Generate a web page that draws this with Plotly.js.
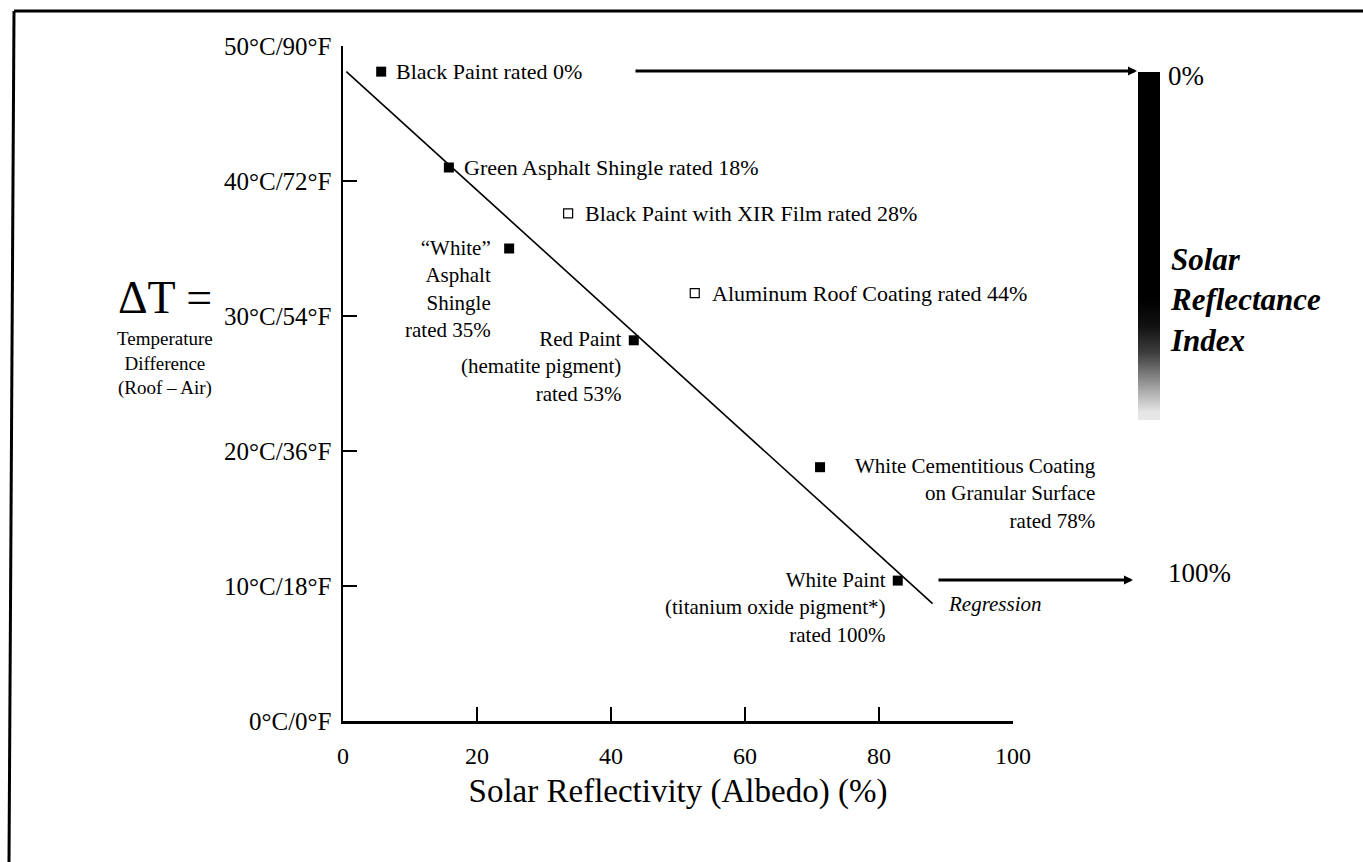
<!DOCTYPE html>
<html>
<head>
<meta charset="utf-8">
<script src="https://cdn.plot.ly/plotly-3.0.1.min.js"></script>
<style>html,body{margin:0;padding:0;background:#fff;}#chart{width:1363px;height:862px;}</style>
</head>
<body>
<div id="chart"></div>
<script>
// ---- data ----
const materials = ["Black Paint", "Green Asphalt Shingle", "Black Paint with XIR Film", "\u201cWhite\u201d Asphalt Shingle", "Aluminum Roof Coating", "Red Paint", "White Cementitious Coating", "White Paint"];
const albedo = [5.7, 15.8, 33.6, 24.8, 52.5, 43.4, 71.2, 82.8];
const deltaT = [48.1, 41.0, 37.6, 35.0, 31.7, 28.2, 18.8, 10.4];
const sriRating = [0, 18, 28, 35, 44, 53, 78, 100];
const openMarker = [false, false, true, false, true, false, false, false];
const labelText = [
  "Black Paint rated 0%",
  "Green Asphalt Shingle rated 18%",
  "Black Paint with XIR Film rated 28%",
  "\u201cWhite\u201d<br>Asphalt<br>Shingle<br>rated 35%",
  "Aluminum Roof Coating rated 44%",
  "Red Paint<br>(hematite pigment)<br>rated 53%",
  "White Cementitious Coating<br>on Granular Surface<br>rated 78%",
  "White Paint<br>(titanium oxide pigment*)<br>rated 100%"
];
const labelSide = ["right", "right", "right", "left", "right", "left", "right", "left"];
const regressionX = [0.5, 88];
const regressionY = [48.1, 8.7];
const xTickVals = [0, 20, 40, 60, 80, 100];
const yTickVals = [0, 10, 20, 30, 40, 50];
const yTickText = ["0\u00b0C/0\u00b0F", "10\u00b0C/18\u00b0F", "20\u00b0C/36\u00b0F", "30\u00b0C/54\u00b0F", "40\u00b0C/72\u00b0F", "50\u00b0C/90\u00b0F"];
const sriLevels = [0, 5, 10, 15, 20, 25, 30, 35, 40, 45, 50, 55, 60, 65, 70, 75, 80, 85, 90, 95, 100];

// ---- layout helpers (pixel -> paper) ----
const W = 1363, H = 862;
const px = v => v / W;
const py = v => 1 - v / H;
const SERIF = "Liberation Serif";

const filledIdx = openMarker.map((o, i) => o ? -1 : i).filter(i => i >= 0);
const openIdx = openMarker.map((o, i) => o ? i : -1).filter(i => i >= 0);

const traces = [
  {
    x: regressionX, y: regressionY, mode: "lines", type: "scatter",
    line: {color: "#000", width: 1.6}, hoverinfo: "skip", showlegend: false
  },
  {
    x: filledIdx.map(i => albedo[i]), y: filledIdx.map(i => deltaT[i]),
    text: filledIdx.map(i => materials[i]), mode: "markers", type: "scatter",
    marker: {symbol: "square", size: 10, color: "#000"}, showlegend: false
  },
  {
    x: openIdx.map(i => albedo[i]), y: openIdx.map(i => deltaT[i]),
    text: openIdx.map(i => materials[i]), mode: "markers", type: "scatter",
    marker: {symbol: "square-open", size: 9, color: "#000", line: {width: 1.2}}, showlegend: false
  },
  {
    type: "heatmap", xaxis: "x2", yaxis: "y2",
    x: [0], y: sriLevels, z: sriLevels.map(v => [v]),
    zmin: 0, zmax: 100, showscale: false, hoverinfo: "skip", zsmooth: "best",
    colorscale: [[0, "#000"], [0.66, "#000"], [0.74, "#111"], [0.82, "#3c3c3c"], [0.9, "#8a8a8a"], [1, "#e6e6e6"]]
  }
];

const annotations = [];
labelText.forEach((t, i) => {
  const multi = t.indexOf("<br>") >= 0;
  const fs = multi ? 21 : 22;
  if (labelSide[i] === "right") {
    annotations.push({
      x: albedo[i], y: deltaT[i], xref: "x", yref: "y", text: t, showarrow: false,
      xanchor: "left", yanchor: multi ? "top" : "middle", align: multi ? "right" : "left",
      xshift: multi ? 33 : (openMarker[i] ? 15 : 13), yshift: multi ? 15 : 0,
      font: {family: SERIF, size: fs, color: "#000"}
    });
  } else {
    annotations.push({
      x: albedo[i], y: deltaT[i], xref: "x", yref: "y", text: t, showarrow: false,
      xanchor: "right", yanchor: "top", align: "right",
      xshift: i === 3 ? -16 : -10, yshift: 15,
      font: {family: SERIF, size: fs, color: "#000"}
    });
  }
});
annotations.push({
  x: regressionX[1], y: regressionY[1], xref: "x", yref: "y", text: "<i>Regression</i>",
  showarrow: false, xanchor: "left", yanchor: "middle", xshift: 13, yshift: 0,
  font: {family: SERIF, size: 21, color: "#000"}
});
// y-axis title block
annotations.push({x: px(165), y: py(297), xref: "paper", yref: "paper", text: "\u0394T =", showarrow: false,
  xanchor: "center", yanchor: "middle", font: {family: SERIF, size: 46, color: "#000"}});
annotations.push({x: px(165), y: py(326), xref: "paper", yref: "paper",
  text: "Temperature<br>Difference<br>(Roof \u2013 Air)", showarrow: false,
  xanchor: "center", yanchor: "top", align: "center", font: {family: SERIF, size: 19, color: "#000"}});
// right side index
annotations.push({x: px(1166), y: py(76), xref: "paper", yref: "paper", text: "0%", showarrow: false,
  xanchor: "left", yanchor: "middle", font: {family: SERIF, size: 27, color: "#000"}});
annotations.push({x: px(1166), y: py(573), xref: "paper", yref: "paper", text: "100%", showarrow: false,
  xanchor: "left", yanchor: "middle", font: {family: SERIF, size: 27, color: "#000"}});
annotations.push({x: px(1168), y: py(300), xref: "paper", yref: "paper",
  text: "<b><i>Solar<br>Reflectance<br>Index</i></b>", showarrow: false,
  xanchor: "left", yanchor: "middle", align: "left", font: {family: SERIF, size: 31, color: "#000"}});
// arrows
annotations.push({x: px(1137), y: py(71), ax: px(634), ay: py(71), xref: "paper", yref: "paper",
  axref: "paper", ayref: "paper", text: "", showarrow: true, arrowhead: 2, arrowsize: 0.6,
  arrowwidth: 3, arrowcolor: "#000", standoff: 0, startstandoff: 0});
annotations.push({x: px(1133), y: py(580), ax: px(937), ay: py(580), xref: "paper", yref: "paper",
  axref: "paper", ayref: "paper", text: "", showarrow: true, arrowhead: 2, arrowsize: 0.6,
  arrowwidth: 3, arrowcolor: "#000", standoff: 0, startstandoff: 0});

const layout = {
  width: W, height: H,
  margin: {l: 0, r: 0, t: 0, b: 0},
  paper_bgcolor: "#fff", plot_bgcolor: "rgba(0,0,0,0)",
  showlegend: false,
  font: {family: SERIF, color: "#000"},
  xaxis: {
    domain: [px(343), px(1013)], range: [0, 100], anchor: "y",
    tickvals: xTickVals, ticktext: xTickVals.map(String),
    ticks: "inside", ticklen: 14, tickwidth: 2, tickcolor: "#000",
    showline: true, linewidth: 2.5, linecolor: "#000",
    showgrid: false, zeroline: false, ticklabelstandoff: 12,
    tickfont: {family: SERIF, size: 24, color: "#000"},
    title: {text: "Solar Reflectivity (Albedo) (%)", font: {family: SERIF, size: 33, color: "#000"}, standoff: 11}
  },
  yaxis: {
    domain: [py(721), py(46)], range: [0, 50], anchor: "x",
    tickvals: yTickVals, ticktext: yTickText,
    ticks: "inside", ticklen: 14, tickwidth: 2, tickcolor: "#000",
    showline: true, linewidth: 2.5, linecolor: "#000",
    showgrid: false, zeroline: false, ticklabelstandoff: 4,
    tickfont: {family: SERIF, size: 25, color: "#000"}
  },
  xaxis2: {domain: [px(1138), px(1160)], range: [-0.5, 0.5], anchor: "y2", visible: false, fixedrange: true},
  yaxis2: {domain: [py(420), py(72)], range: [102.5, -2.5], anchor: "x2", visible: false, fixedrange: true},
  shapes: [
    {type: "line", xref: "paper", yref: "paper", x0: px(14), y0: py(11), x1: 1, y1: py(11), line: {color: "#000", width: 3}},
    {type: "line", xref: "paper", yref: "paper", x0: px(14), y0: py(11), x1: px(9), y1: 0, line: {color: "#000", width: 3}}
  ],
  annotations: annotations
};

Plotly.newPlot("chart", traces, layout, {staticPlot: true, displayModeBar: false});
</script>
</body>
</html>
